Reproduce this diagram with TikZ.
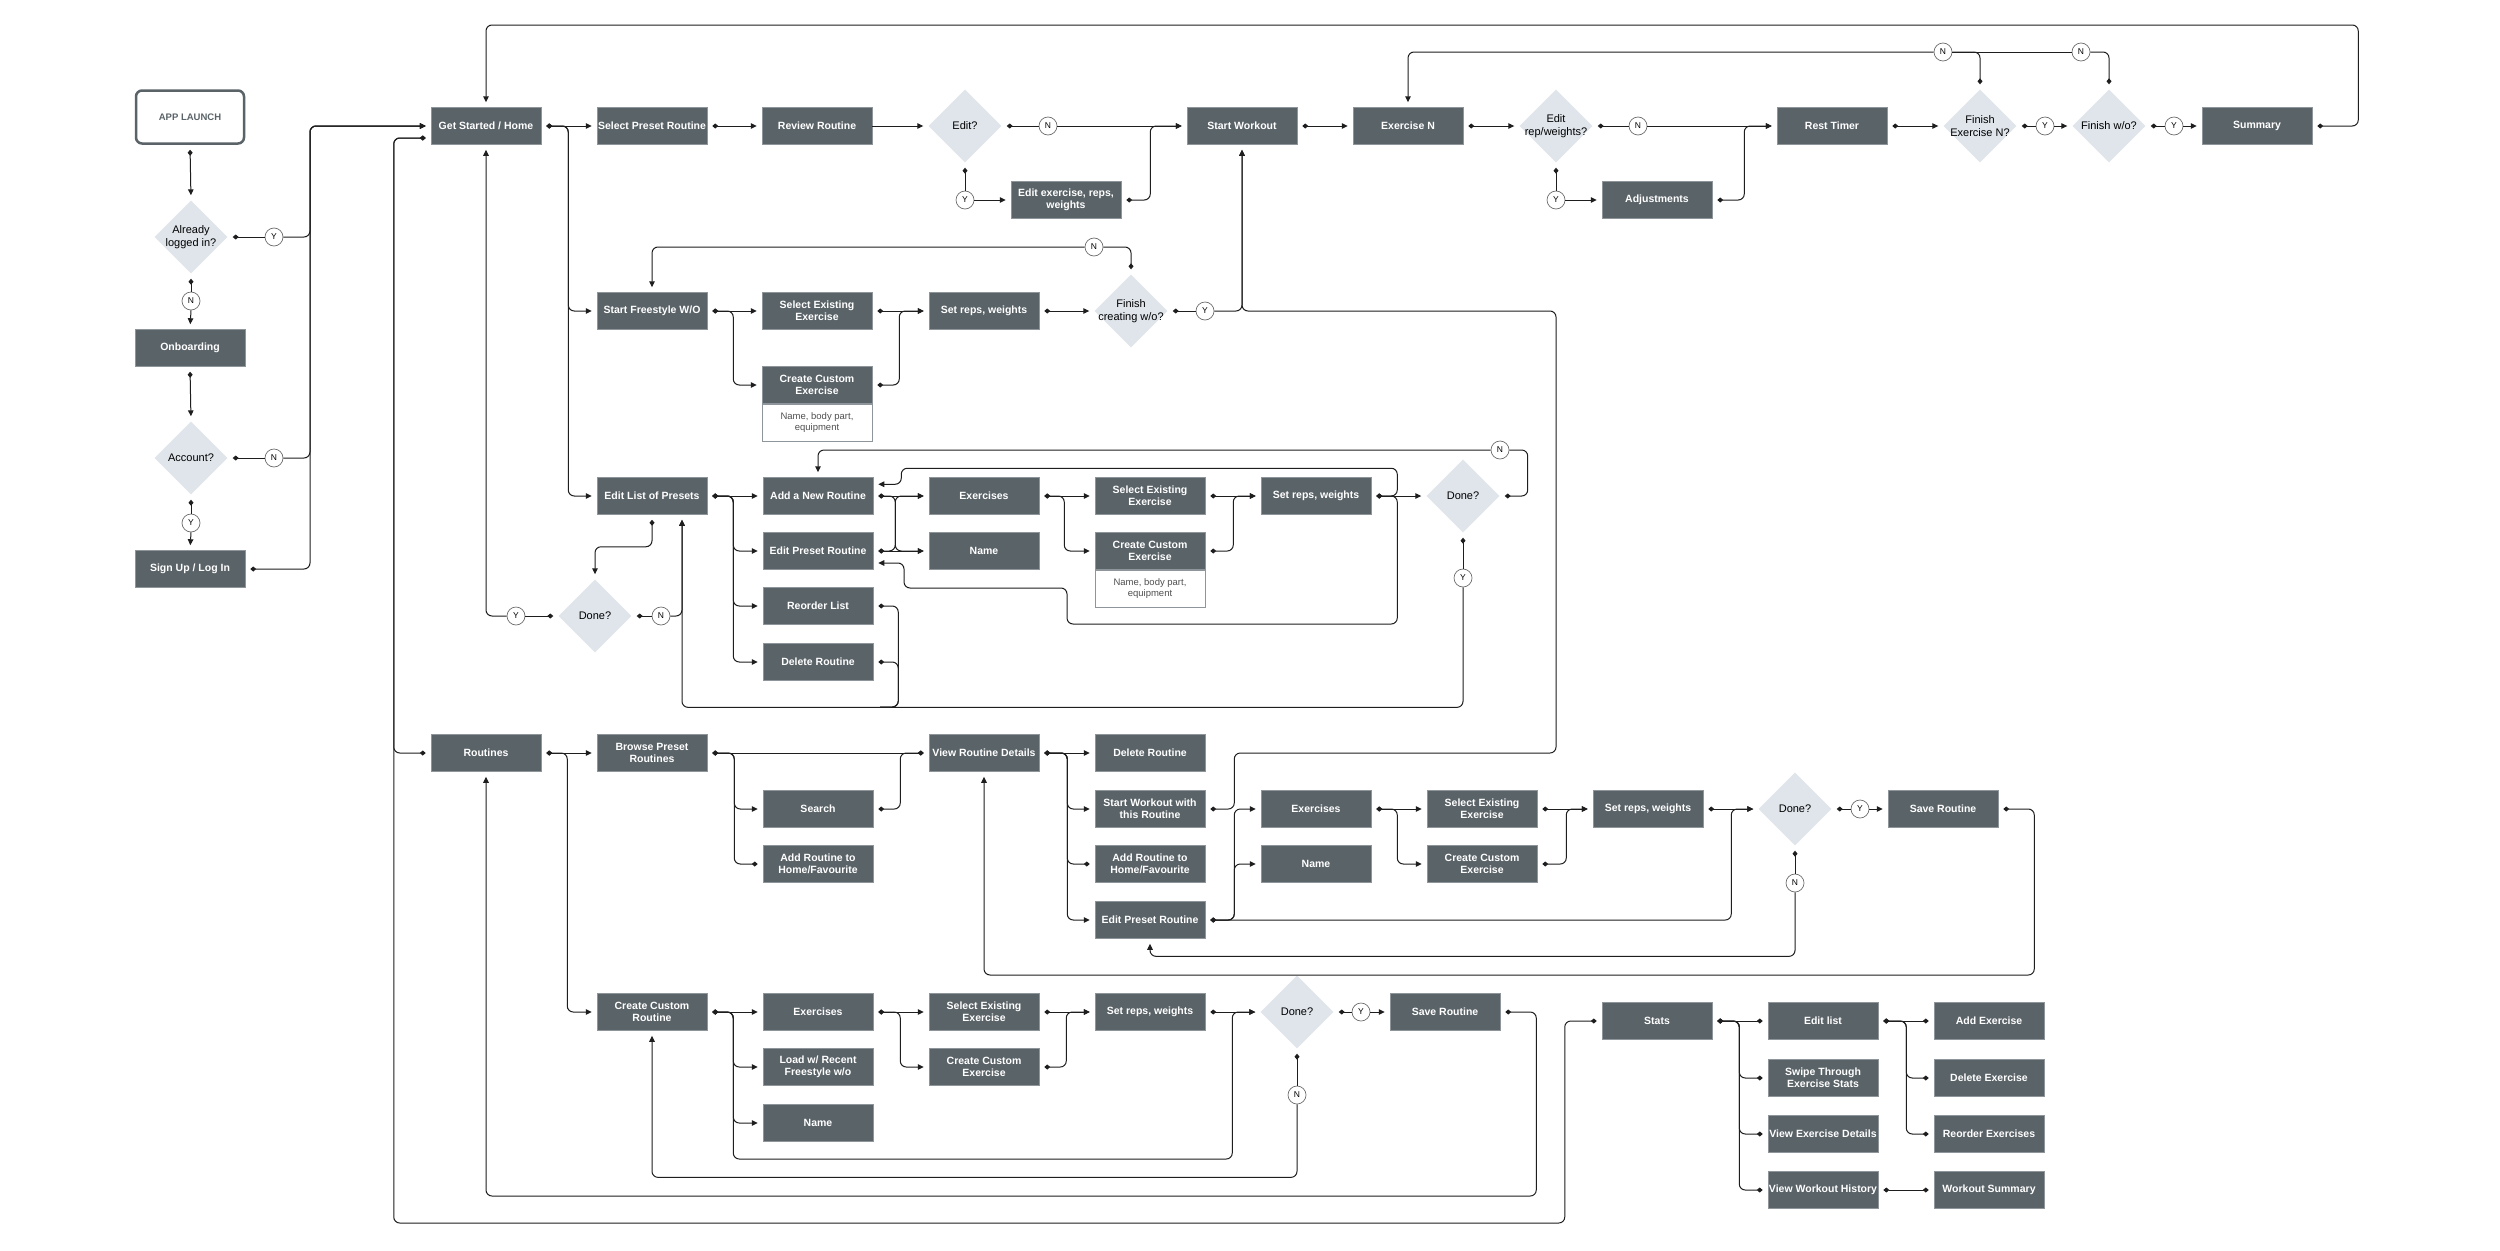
\documentclass[tikz,border=0pt]{standalone}
\usepackage{fontspec}
\setmainfont{Liberation Sans}
\usetikzlibrary{shapes.geometric,arrows.meta,calc}
\definecolor{boxc}{HTML}{5A6368}
\definecolor{boxb}{HTML}{8E969B}
\definecolor{dia}{HTML}{DFE5EB}
\definecolor{linec}{HTML}{1E1E1E}
\definecolor{circb}{HTML}{6E6E6E}
\definecolor{notec}{HTML}{505050}
\tikzset{
  mk/.tip={Diamond[length=6pt,width=5pt]},
  ar/.tip={Triangle[length=6pt,width=5.5pt]},
  box/.style={rectangle, fill=boxc, draw=boxb, line width=0.5pt, minimum width=110pt, minimum height=37pt,
    inner sep=1pt, align=center, text=white, font=\bfseries\fontsize{10.5}{12}\selectfont},
  launchbox/.style={rectangle, rounded corners=6pt, draw=boxc, line width=2.5pt, fill=white,
    minimum width=108pt, minimum height=53pt, text=boxc, font=\bfseries\fontsize{9.5}{11}\selectfont},
  dec/.style={diamond, fill=dia, draw=none, minimum width=73pt, minimum height=73pt,
    inner xsep=-6pt, inner ysep=-4pt, align=center, text=black, font=\fontsize{11}{12.5}\selectfont},
  yn/.style={circle, draw=circb, line width=0.7pt, fill=white, minimum size=18pt, inner sep=0pt,
    font=\fontsize{8.5}{9}\selectfont},
  note/.style={rectangle, draw=boxb, fill=white, line width=0.6pt, minimum width=110pt, minimum height=37pt,
    inner sep=0pt, align=center, text=notec, font=\fontsize{9.5}{11.5}\selectfont},
  wire/.style={draw=linec, line width=1pt, rounded corners=6pt},
  conn/.style={wire, mk-ar, shorten <=5pt, shorten >=5pt},
  cdd/.style={wire, mk-mk, shorten <=5pt, shorten >=5pt},
  cto/.style={wire, mk-, shorten <=5pt},
  cfrom/.style={wire, -ar, shorten >=5pt},
  cline/.style={wire},
}
\begin{document}
\begin{tikzpicture}[x=1pt,y=-1pt]
\fill[white] (0,0) rectangle (2500,1250);
\useasboundingbox (0,0) rectangle (2500,1250);

% ---------- left column ----------
\node[launchbox] (launch) at (190,117) {APP LAUNCH};
\node[dec] (dLogged) at (191,237) {Already\\logged in?};
\node[yn] (cY1) at (274,237) {Y};
\node[yn] (cN1) at (191,301) {N};
\node[box] (onboard) at (190,348) {Onboarding};
\node[dec] (dAccount) at (191,458) {Account?};
\node[yn] (cN2) at (274,458) {N};
\node[yn] (cY2) at (191,523) {Y};
\node[box] (signup) at (190,569) {Sign Up / Log In};
\coordinate (trunk) at (310,0);

% ---------- main row ----------
\node[box] (home) at (486,126) {Get Started / Home};
\node[box] (selpre) at (652,126) {Select Preset Routine};
\node[box] (review) at (817,126) {Review Routine};
\node[dec] (dEdit) at (965,126) {Edit?};
\node[yn] (cN3) at (1048,126) {N};
\node[yn] (cY3) at (965,200) {Y};
\node[box] (editex) at (1066,200) {Edit exercise, reps,\\weights};
\node[box] (startw) at (1242,126) {Start Workout};
\node[box] (exN) at (1408,126) {Exercise N};
\node[dec] (dEditRep) at (1556,126) {Edit\\rep/weights?};
\node[yn] (cN4) at (1638,126) {N};
\node[yn] (cY4) at (1556,200) {Y};
\node[box] (adjust) at (1657,200) {Adjustments};
\node[box] (rest) at (1832,126) {Rest Timer};
\node[dec] (dFinEx) at (1980,126) {Finish\\Exercise N?};
\node[yn] (cY5) at (2045,126) {Y};
\node[dec] (dFinWo) at (2109,126) {Finish w/o?};
\node[yn] (cY6) at (2174,126) {Y};
\node[box] (summary) at (2257,126) {Summary};
\node[yn] (cN5) at (1943,52) {N};
\node[yn] (cN6) at (2081,52) {N};

% ---------- freestyle ----------
\node[box] (startfree) at (652,311) {Start Freestyle W/O};
\node[box] (selex1) at (817,311) {Select Existing\\Exercise};
\node[box] (cust1) at (817,385) {Create Custom\\Exercise};
\node[note, anchor=north] (note1) at (cust1.south) {Name, body part,\\equipment};
\node[box] (setr1) at (984,311) {Set reps, weights};
\node[dec] (dFinCr) at (1131,311) {Finish\\creating w/o?};
\node[yn] (cN7) at (1094,247) {N};
\node[yn] (cY7) at (1205,311) {Y};

% ---------- edit list of presets ----------
\node[box] (editlist) at (652,496) {Edit List of Presets};
\node[box] (addnew) at (818,496) {Add a New Routine};
\node[box] (editpre1) at (818,551) {Edit Preset Routine};
\node[box] (reorder) at (818,606) {Reorder List};
\node[box] (delr1) at (818,662) {Delete Routine};
\node[box] (exs2) at (984,496) {Exercises};
\node[box] (name2) at (984,551) {Name};
\node[box] (selex2) at (1150,496) {Select Existing\\Exercise};
\node[box] (cust2) at (1150,551) {Create Custom\\Exercise};
\node[note, anchor=north] (note2) at (cust2.south) {Name, body part,\\equipment};
\node[box] (setr2) at (1316,496) {Set reps, weights};
\node[dec] (dDone2) at (1463,496) {Done?};
\node[yn] (cN8) at (1500,450) {N};
\node[yn] (cY8) at (1463,578) {Y};
\node[dec] (dDone1) at (595,616) {Done?};
\node[yn] (cN9) at (661,616) {N};
\node[yn] (cY9) at (516,616) {Y};
\coordinate (jr) at (880,707);

% ---------- routines ----------
\node[box] (routines) at (486,753) {Routines};
\node[box] (browse) at (652,753) {Browse Preset\\Routines};
\node[box] (search) at (818,809) {Search};
\node[box] (addfav1) at (818,864) {Add Routine to\\Home/Favourite};
\node[box] (viewdet) at (984,753) {View Routine Details};
\node[box] (delr2) at (1150,753) {Delete Routine};
\node[box] (startwith) at (1150,809) {Start Workout with\\this Routine};
\node[box] (addfav2) at (1150,864) {Add Routine to\\Home/Favourite};
\node[box] (editpre2) at (1150,920) {Edit Preset Routine};
\node[box] (exs3) at (1316,809) {Exercises};
\node[box] (name3) at (1316,864) {Name};
\node[box] (selex3) at (1482,809) {Select Existing\\Exercise};
\node[box] (cust3) at (1482,864) {Create Custom\\Exercise};
\node[box] (setr3) at (1648,809) {Set reps, weights};
\node[dec] (dDone3) at (1795,809) {Done?};
\node[yn] (cY10) at (1860,809) {Y};
\node[box] (save1) at (1943,809) {Save Routine};
\node[yn] (cN10) at (1795,883) {N};

% ---------- create custom routine ----------
\node[box] (createR) at (652,1012) {Create Custom\\Routine};
\node[box] (exs4) at (818,1012) {Exercises};
\node[box] (load) at (818,1067) {Load w/ Recent\\Freestyle w/o};
\node[box] (name4) at (818,1123) {Name};
\node[box] (selex4) at (984,1012) {Select Existing\\Exercise};
\node[box] (cust4) at (984,1067) {Create Custom\\Exercise};
\node[box] (setr4) at (1150,1012) {Set reps, weights};
\node[dec] (dDone4) at (1297,1012) {Done?};
\node[yn] (cY11) at (1361,1012) {Y};
\node[box] (save2) at (1445,1012) {Save Routine};
\node[yn] (cN11) at (1297,1095) {N};

% ---------- stats ----------
\node[box] (stats) at (1657,1021) {Stats};
\node[box] (editlist2) at (1823,1021) {Edit list};
\node[box] (swipe) at (1823,1078) {Swipe Through\\Exercise Stats};
\node[box] (viewex) at (1823,1134) {View Exercise Details};
\node[box] (viewhist) at (1823,1190) {View Workout History};
\node[box] (addex) at (1989,1021) {Add Exercise};
\node[box] (delex) at (1989,1078) {Delete Exercise};
\node[box] (reordex) at (1989,1134) {Reorder Exercises};
\node[box] (wsum) at (1989,1190) {Workout Summary};

% ================= connectors =================
% left column
\draw[conn] (launch.south) -- (dLogged.north);
\draw[cto] (dLogged.south) -- (cN1.north);
\draw[cfrom] (cN1.south) -- (onboard.north);
\draw[cto] (dLogged.east) -- (cY1.west);
\draw[cfrom] (cY1.east) -- (cY1.east -| trunk) |- (home.west);
\draw[conn] (onboard.south) -- (dAccount.north);
\draw[cto] (dAccount.east) -- (cN2.west);
\draw[cfrom] (cN2.east) -- (cN2.east -| trunk) |- (home.west);
\draw[cto] (dAccount.south) -- (cY2.north);
\draw[cfrom] (cY2.south) -- (signup.north);
\draw[conn] (signup.east) -- (signup.east -| trunk) |- (home.west);

% main row
\draw[conn] (home.east) -- (selpre.west);
\draw[conn] (home.east) -- ++(27,0) |- (startfree.west);
\draw[conn] (home.east) -- ++(27,0) |- (editlist.west);
\draw[conn] (selpre.east) -- (review.west);
\draw[cfrom] (review.east) -- (dEdit.west);
\draw[cto] (dEdit.east) -- (cN3.west);
\draw[cfrom] (cN3.east) -- (startw.west);
\draw[cto] (dEdit.south) -- (cY3.north);
\draw[cfrom] (cY3.east) -- (editex.west);
\draw[conn] (editex.east) -- ++(29,0) |- (startw.west);
\draw[conn] (startw.east) -- (exN.west);
\draw[conn] (exN.east) -- (dEditRep.west);
\draw[cto] (dEditRep.east) -- (cN4.west);
\draw[cfrom] (cN4.east) -- (rest.west);
\draw[cto] (dEditRep.south) -- (cY4.north);
\draw[cfrom] (cY4.east) -- (adjust.west);
\draw[conn] (adjust.east) -- ++(32,0) |- (rest.west);
\draw[conn] (rest.east) -- (dFinEx.west);
\draw[cto] (dFinEx.east) -- (cY5.west);
\draw[cfrom] (cY5.east) -- (dFinWo.west);
\draw[cto] (dFinWo.east) -- (cY6.west);
\draw[cfrom] (cY6.east) -- (summary.west);
\draw[cto] (dFinEx.north) |- (cN5.east);
\draw[cfrom] (cN5.west) -| (exN.north);
\draw[cto] (dFinWo.north) |- (cN6.east);
\draw[cline] (cN6.west) -- (cN5.east);
\draw[conn] (summary.east) -- ++(46,0) -- ++(0,-101) -| (home.north);

% freestyle
\draw[conn] (startfree.east) -- (selex1.west);
\draw[conn] (startfree.east) -- ++(26,0) |- (cust1.west);
\draw[conn] (selex1.east) -- (setr1.west);
\draw[conn] (cust1.east) -- ++(27,0) |- (setr1.west);
\draw[conn] (setr1.east) -- (dFinCr.west);
\draw[cto] (dFinCr.north) |- (cN7.east);
\draw[cfrom] (cN7.west) -| (startfree.north);
\draw[cto] (dFinCr.east) -- (cY7.west);
\draw[cfrom] (cY7.east) -| (startw.south);

% edit list of presets
\draw[conn] (editlist.east) -- (addnew.west);
\draw[conn] (editlist.east) -- ++(26,0) |- (editpre1.west);
\draw[conn] (editlist.east) -- ++(26,0) |- (reorder.west);
\draw[conn] (editlist.east) -- ++(26,0) |- (delr1.west);
\draw[conn] (addnew.east) -- (exs2.west);
\draw[conn] (addnew.east) -- ++(22,0) |- (name2.west);
\draw[conn] (editpre1.east) -- ++(22,0) |- (exs2.west);
\draw[conn] (editpre1.east) -- (name2.west);
\draw[conn] (exs2.east) -- (selex2.west);
\draw[conn] (exs2.east) -- ++(25,0) |- (cust2.west);
\draw[conn] (selex2.east) -- (setr2.west);
\draw[conn] (cust2.east) -- ++(28,0) |- (setr2.west);
\draw[conn] (setr2.east) -- (dDone2.west);
\draw[conn] (setr2.east) -- ++(26,0) |- ([xshift=28pt,yshift=9pt]addnew.north east) |- ([yshift=-7pt]addnew.north east);
\draw[conn] (setr2.east) -- ++(26,0) |- (1067,624) |- (904,588) |- ([yshift=-12pt]editpre1.east);
\draw[cto] (dDone2.east) -- ++(28,0) |- (cN8.east);
\draw[cfrom] (cN8.west) -| (addnew.north);
\draw[cto] (dDone2.south) -- (cY8.north);
\draw[cfrom] (cY8.south) -- ++(0,120) -| ([xshift=30pt]editlist.south);
\draw[cto] (reorder.east) -- ++(25,0) |- (jr);
\draw[cto] (delr1.east) -- ++(25,0) |- (jr);
\draw[conn] (editlist.south) -- ++(0,32) -| (dDone1.north);
\draw[cto] (dDone1.east) -- (cN9.west);
\draw[cfrom] (cN9.east) -| ([xshift=30pt]editlist.south);
\draw[cto] (dDone1.west) -- (cY9.east);
\draw[cfrom] (cY9.west) -| (home.south);

% routines
\draw[cdd] ([yshift=-12pt]home.west) -- ++(-37,0) |- (routines.west);
\draw[cdd] ([yshift=-12pt]home.west) -- ++(-37,0) |- ([xshift=-37pt,yshift=-202pt]stats.west) |- (stats.west);
\draw[conn] (routines.east) -- (browse.west);
\draw[conn] (routines.east) -- ++(26,0) |- (createR.west);
\draw[cdd] (browse.east) -- (viewdet.west);
\draw[conn] (browse.east) -- ++(27,0) |- (search.west);
\draw[cdd] (browse.east) -- ++(27,0) |- (addfav1.west);
\draw[cdd] (search.east) -- ++(27,0) |- (viewdet.west);
\draw[conn] (viewdet.east) -- (delr2.west);
\draw[conn] (viewdet.east) -- ++(28,0) |- (startwith.west);
\draw[cdd] (viewdet.east) -- ++(28,0) |- (addfav2.west);
\draw[conn] (viewdet.east) -- ++(28,0) |- (editpre2.west);
\draw[conn] (startwith.east) -- ++(29,0) |- (1556,753) -- (1556,311) -| (startw.south);
\draw[conn] (editpre2.east) -- ++(29,0) |- (exs3.west);
\draw[conn] (editpre2.east) -- ++(29,0) |- (name3.west);
\draw[conn] (editpre2.east) -- ++(526,0) |- (dDone3.west);
\draw[conn] (exs3.east) -- (selex3.west);
\draw[conn] (exs3.east) -- ++(26,0) |- (cust3.west);
\draw[conn] (selex3.east) -- (setr3.west);
\draw[conn] (cust3.east) -- ++(29,0) |- (setr3.west);
\draw[conn] (setr3.east) -- (dDone3.west);
\draw[cto] (dDone3.east) -- (cY10.west);
\draw[cfrom] (cY10.east) -- (save1.west);
\draw[cto] (dDone3.south) -- (cN10.north);
\draw[cfrom] (cN10.south) -- ++(0,64) -| (editpre2.south);
\draw[conn] (save1.east) -- ++(36,0) -- ++(0,166) -| (viewdet.south);

% create custom routine
\draw[conn] (createR.east) -- (exs4.west);
\draw[conn] (createR.east) -- ++(26,0) |- (load.west);
\draw[conn] (createR.east) -- ++(26,0) |- (name4.west);
\draw[conn] (createR.east) -- ++(26,0) -- ++(0,147) -- ++(499,0) |- (dDone4.west);
\draw[conn] (exs4.east) -- (selex4.west);
\draw[conn] (exs4.east) -- ++(27,0) |- (cust4.west);
\draw[conn] (selex4.east) -- (setr4.west);
\draw[conn] (cust4.east) -- ++(27,0) |- (setr4.west);
\draw[conn] (setr4.east) -- (dDone4.west);
\draw[cto] (dDone4.east) -- (cY11.west);
\draw[cfrom] (cY11.east) -- (save2.west);
\draw[cto] (dDone4.south) -- (cN11.north);
\draw[cfrom] (cN11.south) -- ++(0,73) -| (createR.south);
\draw[conn] (save2.east) -- ++(36,0) -- ++(0,184) -| (routines.south);

% stats
\draw[cdd] (stats.east) -- (editlist2.west);
\draw[cdd] (stats.east) -- ++(27,0) |- (swipe.west);
\draw[cdd] (stats.east) -- ++(27,0) |- (viewex.west);
\draw[cdd] (stats.east) -- ++(27,0) |- (viewhist.west);
\draw[cdd] (editlist2.east) -- (addex.west);
\draw[cdd] (editlist2.east) -- ++(28,0) |- (delex.west);
\draw[cdd] (editlist2.east) -- ++(28,0) |- (reordex.west);
\draw[cdd] (viewhist.east) -- (wsum.west);
\end{tikzpicture}
\end{document}
